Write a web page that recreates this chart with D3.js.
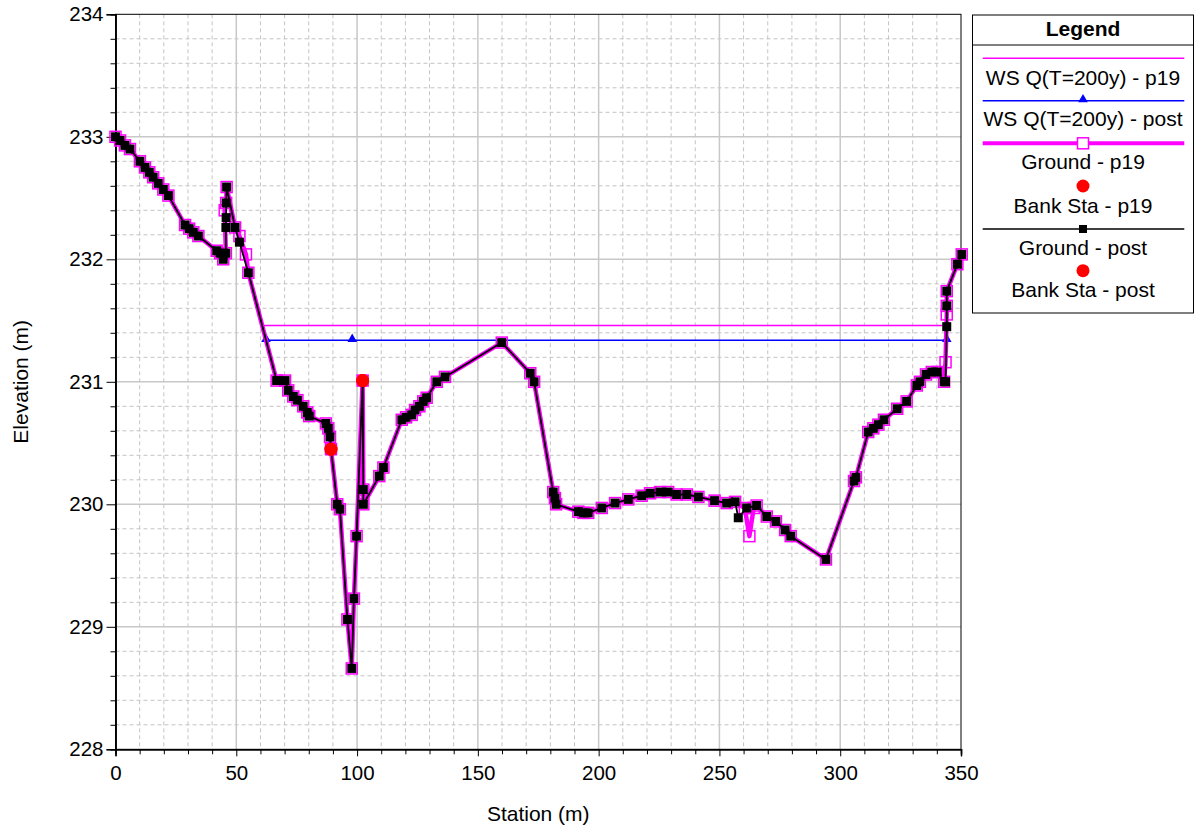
<!DOCTYPE html>
<html>
<head>
<meta charset="utf-8">
<script src="https://cdn.jsdelivr.net/npm/d3@7"></script>
<style>
  html, body { margin: 0; padding: 0; background: #fff; }
  svg { display: block; font-family: "Liberation Sans", Arial, sans-serif; }
</style>
</head>
<body>
<svg id="chart" width="1197" height="830"></svg>
<script>
// Cross-section profile: station (m) vs elevation (m)

// Ground - post (black squares)
const groundPostSta = [0, 1.9, 3.9, 6.0, 10.1, 12.2, 14.0, 15.6, 17.7, 19.8, 21.9, 28.8, 30.5, 32.2, 34.3,
  41.9, 43.3, 44.6, 45.7, 45.7, 45.8, 45.8, 46.0, 49.5, 51.3, 55.0, 66.7, 70.2, 71.5, 73.6, 75.3, 77.7,
  79.4, 80.2, 87.1, 88.1, 88.8, 89.2, 91.8, 92.9, 96.0, 97.8, 98.7, 99.8, 102.3, 102.6, 102.6, 109.2,
  110.9, 118.5, 120.3, 122.6, 124.0, 125.8, 127.4, 128.8, 133.0, 136.4, 159.9, 171.7, 173.3, 181.2,
  181.9, 182.4, 191.6, 193.7, 195.7, 201.3, 206.8, 212.3, 217.8, 221.3, 225.4, 228.8, 232.3, 236.5,
  241.3, 248.0, 253.0, 256.5, 257.8, 261.3, 265.4, 269.6, 273.4, 277.2, 279.5, 294.1, 305.7, 306.5,
  311.6, 313.7, 315.8, 318.1, 323.6, 327.5, 331.7, 333.0, 335.5, 337.9, 340.2, 343.0, 343.6, 344.1,
  344.1, 344.1, 348.5, 350.3];
const groundPostElev = [233.00, 232.97, 232.93, 232.90, 232.80, 232.75, 232.71, 232.67, 232.62, 232.57,
  232.52, 232.28, 232.25, 232.22, 232.19, 232.07, 232.05, 232.00, 232.05, 232.26, 232.34, 232.46, 232.59,
  232.26, 232.14, 231.89, 231.01, 231.01, 230.93, 230.88, 230.85, 230.80, 230.75, 230.72, 230.66, 230.62,
  230.55, 230.45, 230.00, 229.96, 229.06, 228.66, 229.23, 229.74, 231.01, 230.12, 230.00, 230.23, 230.30,
  230.69, 230.71, 230.73, 230.77, 230.80, 230.84, 230.87, 231.00, 231.04, 231.32, 231.07, 231.00, 230.10,
  230.05, 230.00, 229.94, 229.93, 229.93, 229.97, 230.01, 230.04, 230.07, 230.09, 230.10, 230.10, 230.08,
  230.08, 230.06, 230.03, 230.01, 230.02, 229.89, 229.97, 229.99, 229.90, 229.86, 229.79, 229.74, 229.55,
  230.19, 230.22, 230.59, 230.62, 230.65, 230.69, 230.78, 230.84, 230.97, 231.00, 231.06, 231.08, 231.08,
  231.00, 231.00, 231.45, 231.62, 231.74, 231.96, 232.04];

// Ground - p19 (open magenta squares)
const groundP19Sta = [0, 1.9, 3.9, 6.0, 10.1, 12.2, 14.0, 15.6, 17.7, 19.8, 21.9, 28.8, 30.5, 32.2, 34.3,
  41.9, 43.3, 44.6, 45.7, 45.2, 45.8, 46.0, 49.5, 51.3, 54.0, 55.0, 66.7, 70.2, 71.5, 73.6, 75.3, 77.7,
  79.4, 80.2, 87.1, 88.1, 88.8, 89.2, 91.8, 92.9, 96.0, 97.8, 98.7, 99.8, 102.3, 102.6, 102.6, 109.2,
  110.9, 118.5, 120.3, 122.6, 124.0, 125.8, 127.4, 128.8, 133.0, 136.4, 159.9, 171.7, 173.3, 181.2,
  181.9, 182.4, 191.6, 193.7, 195.7, 201.3, 206.8, 212.3, 217.8, 221.3, 225.4, 228.8, 232.3, 236.5,
  241.3, 248.0, 253.0, 256.5, 260.5, 262.4, 264.2, 265.4, 269.6, 273.4, 277.2, 279.5, 294.1, 305.7, 306.5,
  311.6, 313.7, 315.8, 318.1, 323.6, 327.5, 331.7, 333.0, 335.5, 337.9, 340.2, 343.0, 343.6, 344.1,
  344.1, 344.1, 348.5, 350.3];
const groundP19Elev = [233.00, 232.97, 232.93, 232.90, 232.80, 232.75, 232.71, 232.67, 232.62, 232.57,
  232.52, 232.28, 232.25, 232.22, 232.19, 232.07, 232.05, 232.00, 232.05, 232.40, 232.46, 232.59,
  232.26, 232.19, 232.04, 231.89, 231.01, 231.01, 230.93, 230.88, 230.85, 230.80, 230.75, 230.72, 230.66, 230.62,
  230.55, 230.45, 230.00, 229.96, 229.06, 228.66, 229.23, 229.74, 231.01, 230.12, 230.00, 230.23, 230.30,
  230.69, 230.71, 230.73, 230.77, 230.80, 230.84, 230.87, 231.00, 231.04, 231.32, 231.07, 231.00, 230.10,
  230.05, 230.00, 229.94, 229.93, 229.93, 229.97, 230.01, 230.04, 230.07, 230.09, 230.10, 230.10, 230.08,
  230.08, 230.06, 230.03, 230.01, 230.02, 229.97, 229.74, 229.97, 229.99, 229.90, 229.86, 229.79, 229.74, 229.55,
  230.19, 230.22, 230.59, 230.62, 230.65, 230.69, 230.78, 230.84, 230.97, 231.00, 231.06, 231.08, 231.08,
  231.00, 231.16, 231.55, 231.62, 231.74, 231.96, 232.04];

// Water surfaces
const wsP19Sta = [60.7, 343.5];
const wsP19Elev = [231.46, 231.46];
const wsPostSta = [62.3, 98.0, 344.1];
const wsPostElev = [231.34, 231.34, 231.34];

// Bank stations
const bankP19Sta = [89.2, 102.3];
const bankP19Elev = [230.45, 231.01];
const bankPostSta = [89.2, 102.3];
const bankPostElev = [230.45, 231.01];

// Axis ticks
const xMajorTicks = [0, 50, 100, 150, 200, 250, 300, 350];
const yMajorTicks = [228, 229, 230, 231, 232, 233, 234];

const legendLabels = ["WS Q(T=200y) - p19", "WS Q(T=200y) - post", "Ground - p19",
  "Bank Sta - p19", "Ground - post", "Bank Sta - post"];

(function draw() {
  const zip = (a, b) => a.map((v, i) => [v, b[i]]);

  const svg = d3.select("#chart");
  const pLeft = 115.5, pRight = 961, pTop = 14.3, pBottom = 749.3;
  const x = d3.scaleLinear().domain([0, 350]).range([pLeft, pRight]);
  const y = d3.scaleLinear().domain([228, 234]).range([pBottom, pTop]);

  const xMinor = d3.range(0, 351, 10).filter(v => v % 50 !== 0);
  const yMinor = d3.range(0, 31).map(i => +(228 + i * 0.2).toFixed(1))
    .filter(v => Math.abs(v - Math.round(v)) > 1e-6);

  // grid
  const grid = svg.append("g");
  grid.selectAll(".vminor").data(xMinor).join("line")
    .attr("x1", d => x(d)).attr("x2", d => x(d)).attr("y1", pTop).attr("y2", pBottom)
    .attr("stroke", "#c4c4c4").attr("stroke-width", 1).attr("stroke-dasharray", "4,3");
  grid.selectAll(".hminor").data(yMinor).join("line")
    .attr("x1", pLeft).attr("x2", pRight).attr("y1", d => y(d)).attr("y2", d => y(d))
    .attr("stroke", "#c4c4c4").attr("stroke-width", 1).attr("stroke-dasharray", "4,3");
  grid.selectAll(".vmajor").data(xMajorTicks.slice(1, -1)).join("line")
    .attr("x1", d => x(d)).attr("x2", d => x(d)).attr("y1", pTop).attr("y2", pBottom)
    .attr("stroke", "#c8c8c8").attr("stroke-width", 1.5);
  grid.selectAll(".hmajor").data(yMajorTicks.slice(1, -1)).join("line")
    .attr("x1", pLeft).attr("x2", pRight).attr("y1", d => y(d)).attr("y2", d => y(d))
    .attr("stroke", "#c8c8c8").attr("stroke-width", 1.5);

  // frame
  svg.append("rect").attr("x", pLeft).attr("y", pTop).attr("width", pRight - pLeft).attr("height", pBottom - pTop)
    .attr("fill", "none").attr("stroke", "#000").attr("stroke-width", 1);

  // axes
  const fontSize = 21;
  svg.append("g").attr("transform", `translate(0,${pBottom})`)
    .call(d3.axisBottom(x).tickValues(xMajorTicks).tickSize(7).tickPadding(9).tickFormat(d3.format("d")));
  svg.append("g").attr("transform", `translate(0,${pBottom})`)
    .call(d3.axisBottom(x).tickValues(xMinor).tickSize(5).tickFormat(""));
  svg.append("g").attr("transform", `translate(${pLeft},0)`)
    .call(d3.axisLeft(y).tickValues(yMajorTicks).tickSize(9).tickPadding(3).tickFormat(d3.format("d")));
  svg.append("g").attr("transform", `translate(${pLeft},0)`)
    .call(d3.axisLeft(y).tickValues(yMinor).tickSize(5).tickFormat(""));
  svg.selectAll(".domain").attr("stroke", "#000").attr("stroke-width", 1.5);
  svg.selectAll(".tick line").attr("stroke", "#000");
  svg.selectAll(".tick text").attr("font-size", 20.5).attr("fill", "#000")
    .attr("font-family", "'Liberation Sans', Arial, sans-serif");

  svg.append("text").attr("x", (pLeft + pRight) / 2).attr("y", 821).attr("text-anchor", "middle")
    .attr("font-size", fontSize).text("Station (m)");
  svg.append("text").attr("transform", `translate(28,${(pTop + pBottom) / 2}) rotate(-90)`)
    .attr("text-anchor", "middle").attr("font-size", fontSize).text("Elevation (m)");

  const line = d3.line().x(d => x(d[0])).y(d => y(d[1]));
  const plot = svg.append("g");

  // water surface lines
  plot.append("path").attr("d", line(zip(wsP19Sta, wsP19Elev))).attr("fill", "none")
    .attr("stroke", "#ff00ff").attr("stroke-width", 1.5);
  plot.append("path").attr("d", line(zip(wsPostSta, wsPostElev))).attr("fill", "none")
    .attr("stroke", "#0000ff").attr("stroke-width", 1.5);
  const tri = d3.symbol().type(d3.symbolTriangle).size(40);
  plot.selectAll(".wsmark").data(zip(wsPostSta, wsPostElev)).join("path")
    .attr("d", tri).attr("transform", d => `translate(${x(d[0])},${y(d[1]) - 1})`).attr("fill", "#0000ff");

  // ground p19
  const p19 = zip(groundP19Sta, groundP19Elev);
  plot.append("path").attr("d", line(p19)).attr("fill", "none")
    .attr("stroke", "#ff00ff").attr("stroke-width", 4.5).attr("stroke-linejoin", "round");
  plot.selectAll(".p19mark").data(p19).join("rect")
    .attr("x", d => x(d[0]) - 5.5).attr("y", d => y(d[1]) - 5.5).attr("width", 11).attr("height", 11)
    .attr("fill", "none").attr("stroke", "#ff00ff").attr("stroke-width", 1.5);

  // ground post
  const post = zip(groundPostSta, groundPostElev);
  plot.append("path").attr("d", line(post)).attr("fill", "none")
    .attr("stroke", "#000").attr("stroke-width", 1.8).attr("stroke-linejoin", "round");
  plot.selectAll(".postmark").data(post).join("rect")
    .attr("x", d => x(d[0]) - 4.5).attr("y", d => y(d[1]) - 4.5).attr("width", 9).attr("height", 9)
    .attr("fill", "#000");

  // bank stations
  plot.selectAll(".bank19").data(zip(bankP19Sta, bankP19Elev)).join("circle")
    .attr("cx", d => x(d[0])).attr("cy", d => y(d[1])).attr("r", 6.5).attr("fill", "#ff0000");
  plot.selectAll(".bankpost").data(zip(bankPostSta, bankPostElev)).join("circle")
    .attr("cx", d => x(d[0])).attr("cy", d => y(d[1])).attr("r", 6.5).attr("fill", "#ff0000");

  // legend
  const lg = svg.append("g");
  const lx0 = 972.5, lx1 = 1193.5, lcx = (lx0 + lx1) / 2;
  lg.append("rect").attr("x", lx0).attr("y", 15).attr("width", lx1 - lx0).attr("height", 298)
    .attr("fill", "#fff").attr("stroke", "#000").attr("stroke-width", 1);
  lg.append("line").attr("x1", lx0).attr("x2", lx1).attr("y1", 45).attr("y2", 45).attr("stroke", "#000");
  lg.append("text").attr("x", lcx).attr("y", 35.5).attr("text-anchor", "middle").attr("font-size", fontSize)
    .attr("font-weight", "bold").text("Legend");
  const lineX0 = 982.7, lineX1 = 1184.3;
  const legLine = (yy, color, w) => lg.append("line").attr("x1", lineX0).attr("x2", lineX1)
    .attr("y1", yy).attr("y2", yy).attr("stroke", color).attr("stroke-width", w);
  legLine(58.3, "#ff00ff", 1.5);
  legLine(100.7, "#0000ff", 1.5);
  lg.append("path").attr("d", tri).attr("transform", `translate(${lcx},99.5)`).attr("fill", "#0000ff");
  legLine(143.3, "#ff00ff", 4);
  lg.append("rect").attr("x", lcx - 5.5).attr("y", 137.8).attr("width", 11).attr("height", 11)
    .attr("fill", "#fff").attr("stroke", "#ff00ff").attr("stroke-width", 1.5);
  lg.append("circle").attr("cx", lcx).attr("cy", 186).attr("r", 6.5).attr("fill", "#ff0000");
  legLine(229, "#000", 1.5);
  lg.append("rect").attr("x", lcx - 4).attr("y", 225).attr("width", 8).attr("height", 8).attr("fill", "#000");
  lg.append("circle").attr("cx", lcx).attr("cy", 270.7).attr("r", 6.5).attr("fill", "#ff0000");
  const textY = [85, 126, 169.3, 212.7, 255, 297.3];
  lg.selectAll(".ltext").data(legendLabels).join("text")
    .attr("x", lcx).attr("y", (d, i) => textY[i]).attr("text-anchor", "middle")
    .attr("font-size", fontSize).text(d => d);
})();
</script>
</body>
</html>
